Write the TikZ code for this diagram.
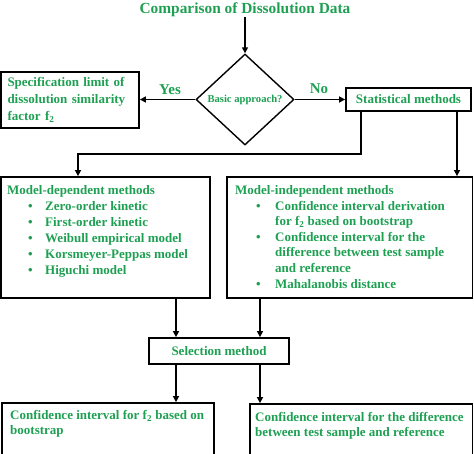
\documentclass[tikz,border=0pt]{standalone}
\usepackage{fontspec}
\setmainfont{Liberation Serif}
\usetikzlibrary{shapes.geometric,arrows.meta}
\definecolor{dgreen}{RGB}{30,160,82}
\tikzset{
  txt/.style={text=dgreen,font=\bfseries\fontsize{13}{16}\selectfont,inner sep=0pt},
  box/.style={draw=black,line width=1.8pt,rectangle,inner sep=0pt},
  conn/.style={draw=black,line width=1.5pt},
  arr/.style={conn,-{Triangle[length=6pt,width=6pt]}},
}
\begin{document}
\begin{tikzpicture}[x=1pt,y=-1pt]
\useasboundingbox (0,0) rectangle (474,453);
\clip (0,0) rectangle (474,453);
% title
\node[txt,font=\bfseries\fontsize{15.4}{18}\selectfont] (title) at (245,10) {Comparison of Dissolution Data};
% decision
\node[draw=black,line width=1.4pt,diamond,inner sep=0pt,aspect=1.08,minimum width=98pt,minimum height=91pt,
      txt,font=\bfseries\fontsize{10.6}{12}\selectfont] (dia) at (245,99.5) {Basic approach?};
% left box
\node[box,minimum width=138pt,minimum height=56pt,text width=125pt,align=left,inner xsep=6.5pt,
      txt,font=\bfseries\fontsize{13}{17}\selectfont] (spec) at (70,100)
  {Specification limit of\\dissolution similarity\\factor f\textsubscript{2}};
% statistical methods
\node[box,minimum width=125pt,minimum height=23pt,txt] (stats) at (408.5,99.5) {Statistical methods};
% yes / no labels
\node[txt,font=\bfseries\fontsize{15}{18}\selectfont] (yes) at (170,90) {Yes};
\node[txt,font=\bfseries\fontsize{15}{18}\selectfont] (no) at (319,89) {No};
% method boxes
\node[box,minimum width=209pt,minimum height=121pt] (md) at (105.5,237.5) {};
\node[box,minimum width=245.5pt,minimum height=121pt] (mi) at (349.75,237.5) {};
\node[txt,anchor=north west] (mdtext) at (7,183)
 {\begin{tabular}{@{\hspace{21pt}}p{17pt}@{}l@{}}
  \multicolumn{2}{@{}l@{}}{Model-dependent methods}\\
  \textbullet & Zero-order kinetic\\
  \textbullet & First-order kinetic\\
  \textbullet & Weibull empirical model\\
  \textbullet & Korsmeyer-Peppas model\\
  \textbullet & Higuchi model
 \end{tabular}};
\node[txt,anchor=north west,font=\bfseries\fontsize{13}{15.6}\selectfont] (mitext) at (235,183.3)
 {\begin{tabular}{@{\hspace{21pt}}p{19pt}@{}l@{}}
  \multicolumn{2}{@{}l@{}}{Model-independent methods}\\
  \textbullet & Confidence interval derivation\\
   & for f\textsubscript{2} based on bootstrap\\
  \textbullet & Confidence interval for the\\
   & difference between test sample\\
   & and reference\\
  \textbullet & Mahalanobis distance
 \end{tabular}};
% selection
\node[box,minimum width=140pt,minimum height=26pt,txt] (sel) at (219,351) {Selection method};
% bottom boxes
\node[box,minimum width=212pt,minimum height=67pt] (bl) at (108,436.5) {};
\node[box,minimum width=222.5pt,minimum height=66pt] (br) at (361.25,437) {};
\node[txt,anchor=north west,align=left,font=\bfseries\fontsize{13}{15}\selectfont] (bltext) at (10,410.5)
 {Confidence interval for f\textsubscript{2} based on\\bootstrap};
\node[txt,anchor=north west,align=left,font=\bfseries\fontsize{13}{14.5}\selectfont] (brtext) at (255,412.5)
 {Confidence interval for the difference\\between test sample and reference};
% connectors
\coordinate (c1) at (361,154);
\coordinate (c2) at (78,154);
\coordinate (c3) at (457,140);
\coordinate (c4) at (176,320);
\coordinate (c5) at (260,320);
\draw[arr] (title.south) -- (dia.north);
\draw[arr] (dia.west) -- (dia.west -| spec.east);
\draw[arr] (dia.east) -- (dia.east -| stats.west);
\draw[arr] (c1 |- stats.south) -- (c1) -- (c2) -- (c2 |- md.north);
\draw[arr] (c3 |- stats.south) -- (c3 |- mi.north);
\draw[arr] (c4 |- md.south) -- (c4 |- sel.north);
\draw[arr] (c5 |- mi.south) -- (c5 |- sel.north);
\draw[arr] (c4 |- sel.south) -- (c4 |- bl.north);
\draw[arr] (c5 |- sel.south) -- (c5 |- br.north);
\end{tikzpicture}
\end{document}
